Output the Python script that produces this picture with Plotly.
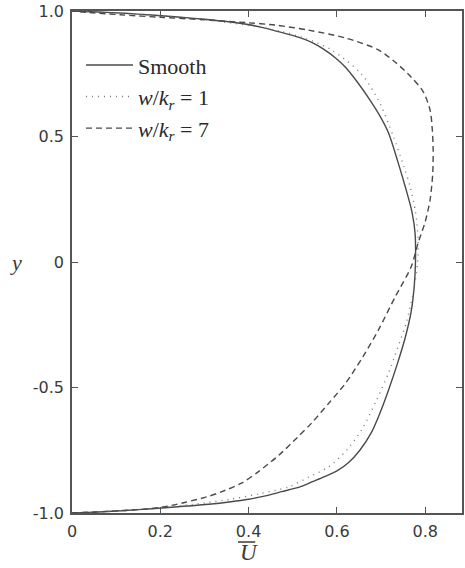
import plotly.graph_objects as go

# ---- data ----
smooth_y = [-1.0, -0.996, -0.99, -0.983, -0.975, -0.965, -0.955, -0.945, -0.935, -0.915, -0.895,
            -0.875, -0.855, -0.83, -0.8, -0.75, -0.68, -0.6, -0.51, -0.4, -0.3, -0.2, -0.1, 0.0,
            0.116, 0.2, 0.299, 0.4, 0.514, 0.58, 0.645, 0.72, 0.775, 0.813, 0.85, 0.875, 0.894,
            0.916, 0.935, 0.947, 0.957, 0.967, 0.976, 0.984, 0.991, 0.996, 1.0]
smooth_u = [0.0, 0.06, 0.12, 0.18, 0.24, 0.31, 0.36, 0.40, 0.43, 0.475, 0.518,
            0.545, 0.572, 0.602, 0.626, 0.652, 0.678, 0.698, 0.717, 0.738, 0.755, 0.768, 0.775, 0.778,
            0.777, 0.770, 0.755, 0.738, 0.717, 0.698, 0.675, 0.645, 0.620, 0.597, 0.568, 0.543, 0.516,
            0.472, 0.430, 0.395, 0.355, 0.300, 0.240, 0.180, 0.120, 0.060, 0.0]

wk1_y = [-1.0, -0.996, -0.99, -0.982, -0.972, -0.96, -0.945, -0.925, -0.896, -0.857, -0.817,
         -0.75, -0.669, -0.55, -0.442, -0.34, -0.243, -0.12, 0.0, 0.088, 0.2, 0.3, 0.378, 0.5,
         0.645, 0.75, 0.845, 0.89, 0.92, 0.945, 0.965, 0.975, 0.985, 0.993, 1.0]
wk1_u = [0.0, 0.06, 0.12, 0.18, 0.24, 0.30, 0.36, 0.42, 0.491, 0.536, 0.581,
         0.622, 0.656, 0.690, 0.717, 0.738, 0.757, 0.773, 0.783, 0.784, 0.778, 0.766, 0.752, 0.728,
         0.694, 0.655, 0.588, 0.530, 0.470, 0.390, 0.300, 0.240, 0.160, 0.080, 0.0]

wk7_y = [-1.0, -0.996, -0.99, -0.982, -0.97, -0.958, -0.936, -0.916, -0.88, -0.837, -0.769,
         -0.70, -0.641, -0.56, -0.482, -0.38, -0.271, -0.139, -0.02, 0.076, 0.16, 0.247, 0.35,
         0.446, 0.53, 0.606, 0.68, 0.737, 0.795, 0.845, 0.892, 0.924, 0.944, 0.953, 0.965,
         0.975, 0.985, 0.994, 1.0]
wk7_u = [0.0, 0.05, 0.12, 0.18, 0.225, 0.255, 0.305, 0.338, 0.385, 0.421, 0.469,
         0.510, 0.543, 0.583, 0.620, 0.658, 0.694, 0.732, 0.768, 0.784, 0.800, 0.811, 0.817,
         0.818, 0.816, 0.811, 0.795, 0.768, 0.733, 0.694, 0.620, 0.535, 0.460, 0.400, 0.300,
         0.200, 0.110, 0.040, 0.0]

names = ["Smooth", "<i>w</i>/<i>k<sub>r</sub></i> = 1", "<i>w</i>/<i>k<sub>r</sub></i> = 7"]
x_ticks = [0, 0.2, 0.4, 0.6, 0.8]
x_ticktext = ["0", "0.2", "0.4", "0.6", "0.8"]
y_ticks = [-1.0, -0.5, 0, 0.5, 1.0]
y_ticktext = ["-1.0", "-0.5", "0", "0.5", "1.0"]

# ---- figure ----
W, H = 465, 568
ML, MR, MT, MB = 72, 1, 11, 55
line_col = "#4a4a4a"
serif = "Liberation Serif, Times New Roman, serif"

fig = go.Figure()
fig.add_trace(go.Scatter(x=smooth_u, y=smooth_y, mode="lines", name=names[0],
                         line=dict(color=line_col, width=1.4, shape="spline", smoothing=0.8)))
fig.add_trace(go.Scatter(x=wk1_u, y=wk1_y, mode="lines", name=names[1],
                         line=dict(color="#777777", width=1.4, dash="1px,5px", shape="spline", smoothing=0.8)))
fig.add_trace(go.Scatter(x=wk7_u, y=wk7_y, mode="lines", name=names[2],
                         line=dict(color=line_col, width=1.4, dash="6px,4px", shape="spline", smoothing=0.8)))

axis_common = dict(showline=True, linecolor="#555555", linewidth=1.5, mirror="ticks",
                   ticks="inside", ticklen=6, tickcolor="#555555", tickwidth=1.2,
                   showgrid=False, zeroline=False, ticklabelstandoff=3,
                   tickfont=dict(family="DejaVu Sans, sans-serif", size=16, color="#3a3a3a"))

plot_w = W - ML - MR
fig.update_layout(
    width=W, height=H,
    margin=dict(l=ML, r=MR, t=MT, b=MB),
    paper_bgcolor="white", plot_bgcolor="white",
    xaxis=dict(range=[0, plot_w / 443.75], tickvals=x_ticks, ticktext=x_ticktext, **axis_common),
    yaxis=dict(range=[-1.0, 1.0], tickvals=y_ticks, ticktext=y_ticktext, **axis_common),
    showlegend=True,
    legend=dict(x=0.023, y=0.934, xanchor="left", yanchor="top",
                bgcolor="rgba(0,0,0,0)", borderwidth=0,
                font=dict(family=serif, size=22, color="#2a2a2a"),
                tracegroupgap=0, itemwidth=47),
    annotations=[
        dict(text="<i>y</i>", x=-0.143, y=0, xref="paper", yref="y", showarrow=False,
             xanchor="center", yanchor="middle",
             font=dict(family=serif, size=22, color="#3a3a3a")),
        dict(text="<i>U</i>", x=0.4, xref="x", y=-0.0777, yref="paper", showarrow=False,
             xanchor="center", yanchor="middle",
             font=dict(family=serif, size=23, color="#3a3a3a")),
    ],
    shapes=[
        dict(type="line", xref="x", yref="paper", x0=0.376, x1=0.415,
             y0=-0.0578, y1=-0.0578, line=dict(color="#3a3a3a", width=1.5)),
    ],
)

fig.write_html("out.html")
